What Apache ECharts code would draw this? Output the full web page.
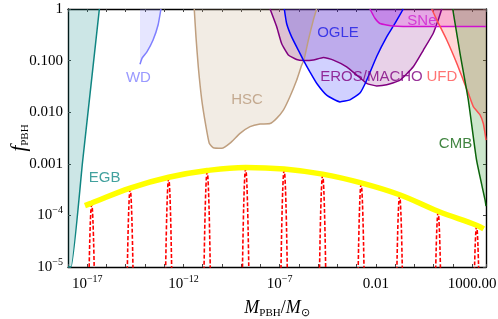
<!DOCTYPE html>
<html><head><meta charset="utf-8">
<script src="https://cdn.jsdelivr.net/npm/echarts@6/dist/echarts.min.js"></script>
<style>html,body{margin:0;padding:0;background:#fff}#c{width:498px;height:319px}</style>
</head><body><div id="c"></div>
<script>
// All values are log10: x = log10(M_PBH/M_sun), y = log10(f_PBH)
const egbX = [-18, -17.84, -17.24, -16.37];
const egbY = [-5, -5, -2.95, 0];

const wdX = [-14.26, -14.15, -13.90, -13.58, -13.32, -13.17];
const wdY = [-1.07, -0.95, -0.83, -0.60, -0.31, 0];

const hscX = [-11.44, -11.35, -11.23, -11.05, -10.83, -10.66, -10.45, -10.01, -9.58, -9.06, -8.54, -8.02, -7.50, -7.16, -6.81, -6.47, -6.12, -5.86, -5.74, -5.51, -5.25, -5.08];
const hscY = [0, -0.54, -1.12, -1.76, -2.28, -2.60, -2.69, -2.70, -2.60, -2.41, -2.28, -2.23, -2.22, -2.12, -1.96, -1.70, -1.38, -1.09, -0.99, -0.60, -0.21, 0];

const ogleX = [-6.76, -6.64, -6.38, -6.03, -5.77, -5.43, -5.08, -4.56, -3.87, -3.35, -2.83, -2.48, -1.96, -1.44, -1.01, -0.58];
const ogleY = [0, -0.28, -0.54, -0.80, -0.99, -1.22, -1.44, -1.67, -1.80, -1.76, -1.63, -1.38, -0.92, -0.54, -0.28, 0];

const erosX = [-7.50, -7.16, -6.90, -6.55, -6.12, -5.77, -5.25, -4.73, -4.21, -3.52, -3.00, -2.48, -1.96, -1.44, -0.75, -0.06, 0.46, 0.98, 1.24, 1.42];
const erosY = [0, -0.34, -0.67, -0.89, -0.98, -1.00, -0.99, -0.94, -0.99, -1.12, -1.28, -1.44, -1.49, -1.47, -1.38, -1.12, -0.80, -0.47, -0.21, 0];

const sneX = [-2.31, -2.05, -1.79, -1.10, 0.29, 3.72];
const sneY = [0, -0.18, -0.28, -0.33, -0.34, -0.34];

const ufdX = [0.90, 1.16, 1.68, 2.20, 2.54, 2.80, 3.06, 3.41, 3.58, 3.67, 3.72];
const ufdY = [0, -0.21, -0.60, -1.05, -1.38, -1.63, -1.89, -2.05, -2.22, -2.41, -2.54];

const cmbX = [1.99, 2.37, 2.80, 3.23, 3.67, 3.72];
const cmbY = [0, -0.86, -1.76, -2.93, -3.70, -3.82];

// peaked mass functions (red dashed)
const peakCenters = [-16.77, -14.77, -12.77, -10.77, -8.77, -6.77, -4.77, -2.77, -0.77, 1.23, 3.23];
const peakTops = [-3.79, -3.50, -3.29, -3.16, -3.10, -3.13, -3.23, -3.40, -3.63, -3.95, -4.22];
const peakShapeDx = [-0.2, -0.16, -0.13, -0.1, -0.07, -0.04, -0.02, 0, 0.02, 0.04, 0.07, 0.1, 0.13, 0.16, 0.2];
const peakShapeDy = [-2.84, -1.82, -1.2, -0.71, -0.35, -0.11, -0.03, 0, -0.03, -0.11, -0.35, -0.71, -1.2, -1.82, -2.84];

// envelope (yellow)
const envX = [-17.12, -16.77, -14.77, -12.77, -10.77, -8.77, -6.77, -4.77, -2.77, -0.77, 1.23, 3.23, 3.60];
const envY = [-3.81, -3.76, -3.47, -3.26, -3.13, -3.07, -3.10, -3.20, -3.37, -3.60, -3.92, -4.19, -4.26];

// tick labels
const xTickValues = [-17, -12, -7, -2, 3];
const xTickLabels = ['10{s|\u221217}', '10{s|\u221212}', '10{s|\u22127}', '0.01', '1000.00'];
const yTickValues = [0, -1, -2, -3, -4, -5];
const yTickLabels = ['1', '0.100', '0.010', '0.001', '10{s|\u22124}', '10{s|\u22125}'];

// region labels
const regionNames = ['WD', 'EGB', 'HSC', 'OGLE', 'EROS/MACHO', 'UFD', 'SNe', 'CMB'];
const regionLabelX = [-14.34, -16.10, -8.70, -3.97, -2.23, 1.43, 0.39, 2.135];
const regionLabelY = [-1.34, -3.275, -1.754, -0.455, -1.318, -1.318, -0.233, -2.616];
const regionLabelColors = ['#8080ff', '#138a86', '#b8997a', '#1a1ae6', '#800080', '#ff5050', '#d020d0', '#116611'];

const zip = (xs, ys) => xs.map((x, i) => [x, ys[i]]);

function region(name, xs, ys, stroke, fill, z) {
  return {
    type: 'line', name: name, data: zip(xs, ys), symbol: 'none', smooth: 0.15,
    lineStyle: { color: stroke, width: 1.5 },
    areaStyle: { color: fill, origin: 'end', opacity: 1 },
    z: z, silent: true, clip: true
  };
}

const series = [
  region('EGB', egbX, egbY, '#0f8582', 'rgba(0,128,128,0.2)', 2),
  region('WD', wdX, wdY, '#7f7fff', 'rgba(128,128,255,0.2)', 2),
  region('HSC', hscX, hscY, '#bf9f7f', 'rgba(190,160,120,0.2)', 2),
  region('EROS', erosX, erosY, '#800080', 'rgba(128,0,128,0.18)', 2),
  region('OGLE', ogleX, ogleY, '#0000ff', 'rgba(0,0,255,0.18)', 2),
  region('SNe', sneX, sneY, '#d010d0', 'rgba(220,0,220,0.2)', 2),
  region('UFD', ufdX, ufdY, '#ff5050', 'rgba(255,80,80,0.23)', 2),
  region('CMB', cmbX, cmbY, '#0b640b', 'rgba(0,128,0,0.2)', 2)
];

peakCenters.forEach((c, k) => {
  series.push({
    type: 'line', data: peakShapeDx.map((d, i) => [c + d, peakTops[k] + peakShapeDy[i]]),
    symbol: 'none', smooth: 0.3, clip: true, silent: true, z: 3,
    lineStyle: { color: '#ff0000', width: 1.6, type: [4, 2] }
  });
});

series.push({
  type: 'line', data: zip(envX, envY), symbol: 'none', smooth: 0.4, clip: true, silent: true, z: 4,
  lineStyle: { color: '#ffff00', width: 5.5, cap: 'butt' }
});

series.push({
  type: 'scatter', symbolSize: 0, silent: true, z: 6,
  data: regionNames.map((n, i) => ({
    name: n, value: [regionLabelX[i], regionLabelY[i]],
    label: { show: true, position: 'inside', formatter: n, color: regionLabelColors[i], fontFamily: 'Liberation Sans', fontSize: 15 }
  }))
});

const serif = 'Liberation Serif';
const richTick = { s: { fontSize: 10, verticalAlign: 'top', lineHeight: 12, fontFamily: serif, color: '#000' } };

function fmt(values, labels) {
  return function (v) {
    for (let i = 0; i < values.length; i++) if (Math.abs(values[i] - v) < 1e-6) return labels[i];
    return '';
  };
}

const frameLine = { show: true, onZero: false, lineStyle: { color: '#000', width: 1.4 } };
const tick = { show: true, inside: true, length: 3, lineStyle: { color: '#444', width: 1 } };

const option = {
  animation: false,
  backgroundColor: '#fff',
  grid: { left: 68, right: 12, top: 9, bottom: 52, containLabel: false, outerBoundsMode: 'none' },
  xAxis: [
    {
      type: 'value', min: -18, max: 3.72, interval: 1, position: 'bottom',
      axisLine: frameLine, axisTick: tick, splitLine: { show: false },
      axisLabel: { formatter: fmt(xTickValues, xTickLabels), margin: 7, fontFamily: serif, fontSize: 15, color: '#000', lineHeight: 20, rich: richTick, showMaxLabel: true },
      name: '{i|M}{b|PBH}{n|/}{i|M}{b|\u2299}', nameLocation: 'middle', nameGap: 26,
      nameTextStyle: { rich: {
        i: { fontFamily: serif, fontStyle: 'italic', fontSize: 18, color: '#000', lineHeight: 22 },
        n: { fontFamily: serif, fontSize: 18, color: '#000', lineHeight: 22 },
        b: { fontFamily: serif, fontSize: 11, color: '#000', verticalAlign: 'bottom', lineHeight: 14 }
      } }
    },
    {
      type: 'value', min: -18, max: 3.72, interval: 1, position: 'top',
      axisLine: frameLine, axisTick: tick, axisLabel: { show: false }, splitLine: { show: false }
    }
  ],
  yAxis: [
    {
      type: 'value', min: -5, max: 0, interval: 1, position: 'left',
      axisLine: frameLine, axisTick: tick, splitLine: { show: false },
      axisLabel: { formatter: fmt(yTickValues, yTickLabels), margin: 5, fontFamily: serif, fontSize: 15, color: '#000', lineHeight: 20, rich: richTick },
      name: '{i|f}{b|PBH}', nameLocation: 'middle', nameGap: 37, nameMoveOverlap: false,
      nameTextStyle: { rich: {
        i: { fontFamily: serif, fontStyle: 'italic', fontSize: 21, color: '#000', lineHeight: 24 },
        b: { fontFamily: serif, fontSize: 11, color: '#000', verticalAlign: 'bottom', lineHeight: 14 }
      } }
    },
    {
      type: 'value', min: -5, max: 0, interval: 1, position: 'right',
      axisLine: frameLine, axisTick: tick, axisLabel: { show: false }, splitLine: { show: false }
    }
  ],
  series: series
};

const chart = echarts.init(document.getElementById('c'), null, { renderer: 'canvas' });
chart.setOption(option);
</script>
</body></html>
